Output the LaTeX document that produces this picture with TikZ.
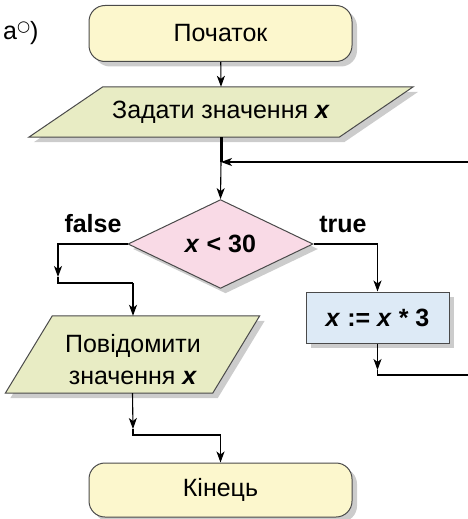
\documentclass[tikz,border=0pt]{standalone}
\usepackage{fontspec}
\setmainfont{Liberation Sans}
\newfontfamily\symfont{DejaVu Sans}
\usetikzlibrary{shapes.geometric,arrows.meta,shadows,backgrounds}
\definecolor{termfill}{HTML}{FCF7CD}
\definecolor{iofill}{HTML}{E8ECC4}
\definecolor{decfill}{HTML}{F9DAE6}
\definecolor{procfill}{HTML}{DDEAF6}
\definecolor{edgecol}{HTML}{4A4A4A}
\begin{document}
\begin{tikzpicture}[x=1pt,y=-1pt,
  every node/.style={font=\fontsize{25}{30}\selectfont},
  shad/.style={drop shadow={shadow xshift=5pt,shadow yshift=-5pt,opacity=0.2,fill=black}},
  term/.style={rectangle,rounded corners=16pt,draw=edgecol,line width=1pt,fill=termfill,
    minimum width=263pt,minimum height=56pt,inner sep=0pt,shad},
  iobox/.style={rectangle,inner sep=0pt,draw=none},
  iopoly/.style={draw=edgecol,line width=1pt,fill=iofill,shad},
  decbox/.style={diamond,draw=edgecol,line width=1pt,fill=decfill,
    minimum width=185pt,minimum height=88pt,inner sep=0pt,shad},
  procbox/.style={rectangle,draw=edgecol,line width=1pt,fill=procfill,
    minimum width=143pt,minimum height=51pt,inner sep=0pt,shad},
  lbl/.style={font=\fontsize{25}{30}\selectfont\bfseries},
  arr/.style={-{Stealth[length=11pt,width=8pt,inset=3pt]},line width=1.1pt},
  ln/.style={line width=1.1pt}]
\useasboundingbox (0,0) rectangle (468,519);

% label
\node[anchor=base west,inner sep=0pt] (lab) at (3,40) {а\raisebox{8pt}{\symfont\fontsize{15}{15}\selectfont ○})};

% nodes
\node[term] (start) at (220.5,33.5) {Початок};
\node[iobox,minimum width=310pt,minimum height=50pt] (in) at (221,112) {Задати значення \textbf{\textit{x}}};
\node[decbox] (dec) at (220.5,244) {\textbf{\textit{x} < 30}};
\node[lbl] (lf) at (93,224) {false};
\node[lbl] (lt) at (343,224) {true};
\node[procbox] (proc) at (377.5,317.5) {\textbf{\textit{x} := \textit{x} * 3}};
\node[iobox,minimum width=207pt,minimum height=77pt] (out) at (132.5,354.5) {};
\node[align=center,inner sep=0pt] (outt) at (133,360) {Повідомити\\[2pt]значення \textbf{\textit{x}}};
\node[term,minimum height=54pt] (end) at (220.5,490) {Кінець};

\begin{pgfonlayer}{background}
\path[iopoly] ([xshift=37pt]in.north west) -- ([xshift=37pt]in.north east)
   -- ([xshift=-37pt]in.south east) -- ([xshift=-37pt]in.south west) -- cycle;
\path[iopoly] ([xshift=23.5pt]out.north west) -- ([xshift=23.5pt]out.north east)
   -- ([xshift=-23.5pt]out.south east) -- ([xshift=-23.5pt]out.south west) -- cycle;
\end{pgfonlayer}

% coordinates
\coordinate (j) at (221,162);
\coordinate (rin) at (468,162);
\coordinate (fa) at (58,277);
\coordinate (fb) at (58,283);
\coordinate (fc) at (133,283);
\coordinate (ta) at (377.5,370);
\coordinate (tb) at (377.5,375);
\coordinate (rout) at (468,375);
\coordinate (oa) at (133,429);
\coordinate (ob) at (133,435);
\coordinate (oc) at (220.5,435);

% connectors
\draw[arr] (start) -- (in.north);
\draw[line width=3pt] (in.south) -- (j);
\draw[arr] (rin) -- (j);
\draw[arr] (j) -- (dec.north);
\draw[arr] (dec.west) -| (fa);
\draw[ln] (fa) -- (fb) -- (fc);
\draw[arr] (fc) -- (fc |- out.north);
\draw[arr] (dec.east) -| (proc.north);
\draw[arr] (proc.south) -- (ta);
\draw[ln] (ta) -- (tb) -- (rout);
\draw[arr] (out.south) -- (oa);
\draw[ln] (oa) -- (ob) -- (oc);
\draw[arr] (oc) -- (end.north);
\end{tikzpicture}
\end{document}
